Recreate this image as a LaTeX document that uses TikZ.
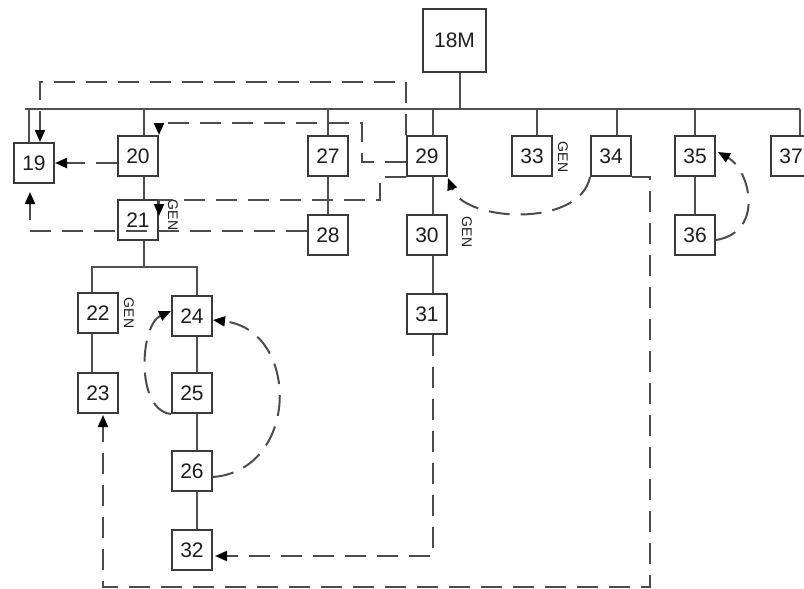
\documentclass[tikz,border=0pt]{standalone}
\usepackage{fontspec}
\setmainfont{Liberation Sans}
\usetikzlibrary{arrows.meta,calc}
\definecolor{boxc}{HTML}{3A3A3A}
\definecolor{linec}{HTML}{505050}
\definecolor{dashc}{HTML}{4C4C4C}
\definecolor{txtc}{HTML}{1E1E1E}
\begin{document}
\begin{tikzpicture}[x=1pt,y=-1pt,
  box/.style={draw=boxc,line width=2pt,minimum width=40pt,minimum height=40pt,inner sep=0pt,
    font=\fontsize{21}{21}\selectfont,text=txtc},
  tree/.style={draw=linec,line width=2pt},
  dsh/.style={draw=dashc,line width=2pt,dash pattern=on 21pt off 11pt},
  arr/.style={-{Triangle[length=12pt,width=10pt,fill=black,color=black]}},
  gen/.style={rotate=-90,font=\fontsize{14}{14}\selectfont,text=txtc,inner sep=0pt}]
\fill[white] (0,0) rectangle (804,589);
\useasboundingbox (0,0) rectangle (804,589);

% boxes
\node[box,minimum width=63pt,minimum height=63pt] (n18) at (454.5,40.5) {18M};
\node[box] (n19) at (34,163) {19};
\node[box] (n20) at (138,156) {20};
\node[box] (n21) at (138,220) {21};
\node[box] (n27) at (328,156) {27};
\node[box] (n28) at (328,235) {28};
\node[box] (n29) at (427,156) {29};
\node[box] (n30) at (427,235) {30};
\node[box] (n31) at (427,314) {31};
\node[box] (n33) at (532,156) {33};
\node[box] (n34) at (611,156) {34};
\node[box] (n35) at (695,156) {35};
\node[box] (n36) at (695,235) {36};
\node[box] (n37) at (791,156) {37};
\node[box] (n22) at (98,313) {22};
\node[box] (n23) at (98,393) {23};
\node[box] (n24) at (192,316) {24};
\node[box] (n25) at (192,393) {25};
\node[box] (n26) at (192,471) {26};
\node[box] (n32) at (192,550) {32};

% GEN labels
\node[gen] (g21) at (173,215) {GEN};
\node[gen] (g33) at (563,157) {GEN};
\node[gen] (g30) at (467,232) {GEN};
\node[gen] (g22) at (129,313) {GEN};

% bus
\coordinate (busL) at (25,109);
\coordinate (busR) at (800,109);
\draw[tree] (busL) -- (busR);
\draw[tree] ([xshift=5pt]n18.south) -- ([xshift=5pt]n18.south |- busL);
\draw[tree] ([xshift=-5pt]n19.north) -- ([xshift=-5pt]n19.north |- busL);
\draw[tree] ([xshift=6pt]n20.north) -- ([xshift=6pt]n20.north |- busL);
\draw[tree] (n27.north) -- (n27.north |- busL);
\draw[tree] ([xshift=6pt]n29.north) -- ([xshift=6pt]n29.north |- busL);
\draw[tree] ([xshift=5pt]n33.north) -- ([xshift=5pt]n33.north |- busL);
\draw[tree] ([xshift=6pt]n34.north) -- ([xshift=6pt]n34.north |- busL);
\draw[tree] (n35.north) -- (n35.north |- busL);
\draw[tree] ([xshift=9pt]n37.north) -- (busR);

% vertical chains
\draw[tree] ([xshift=6pt]n20.south) -- ([xshift=6pt]n21.north);
\draw[tree] (n27.south) -- (n28.north);
\draw[tree] ([xshift=6pt]n29.south) -- ([xshift=6pt]n30.north);
\draw[tree] ([xshift=6pt]n30.south) -- ([xshift=6pt]n31.north);
\draw[tree] (n35.south) -- (n36.north);
\coordinate (br) at (144,267);
\draw[tree] ([xshift=6pt]n21.south) -- (br);
\draw[tree] ([xshift=-6pt]n22.north) |- (br) -| ([xshift=5pt]n24.north);
\draw[tree] ([xshift=-6pt]n22.south) -- ([xshift=-6pt]n23.north);
\draw[tree] ([xshift=5pt]n24.south) -- ([xshift=5pt]n25.north);
\draw[tree] ([xshift=5pt]n25.south) -- ([xshift=5pt]n26.north);
\draw[tree] ([xshift=5pt]n26.south) -- ([xshift=5pt]n32.north);

% dashed connectors
\draw[dsh,arr] (n29.north west) -- ++(0,-53) -| ([xshift=6pt]n19.north);
\coordinate (pB) at (362,123);
\draw[dsh,arr] ([yshift=-6pt]n29.west) -| (pB) -| (n20.north east);
\coordinate (pC) at (380,200);
\draw[dsh,arr] (n29.south west) -| (pC) -| ([yshift=-17pt]n21.north east);
\draw[dsh,arr] ([yshift=4pt]n28.west) -| ([xshift=-4pt,yshift=-8pt]n19.south);
\draw[dsh,arr] ([yshift=-7pt]n20.west) -- ([yshift=-7pt]n20.west -| n19.east);
\draw[dsh,arr] (n34.south west) .. controls (580,228) and (465,222) .. ([yshift=-1pt]n29.south east);
\draw[dsh,arr] ([yshift=-5pt]n36.east) .. controls (765,232) and (750,170) .. ([xshift=2pt,yshift=4pt]n35.east);
\coordinate (pH) at (650,587);
\draw[dsh,arr] (n34.south east) -| (pH) -| ([xshift=5pt,yshift=-1pt]n23.south);
\draw[dsh,arr] ([xshift=6pt]n31.south) |- ([xshift=2pt,yshift=-6pt]n32.east);
\draw[dsh,arr] (n25.south west) .. controls (135,410) and (140,325) .. ([yshift=5pt]n24.west);
\draw[dsh,arr] ([yshift=-6pt]n26.east) .. controls (300,470) and (300,330) .. ([yshift=-4pt]n24.east);
\end{tikzpicture}
\end{document}
